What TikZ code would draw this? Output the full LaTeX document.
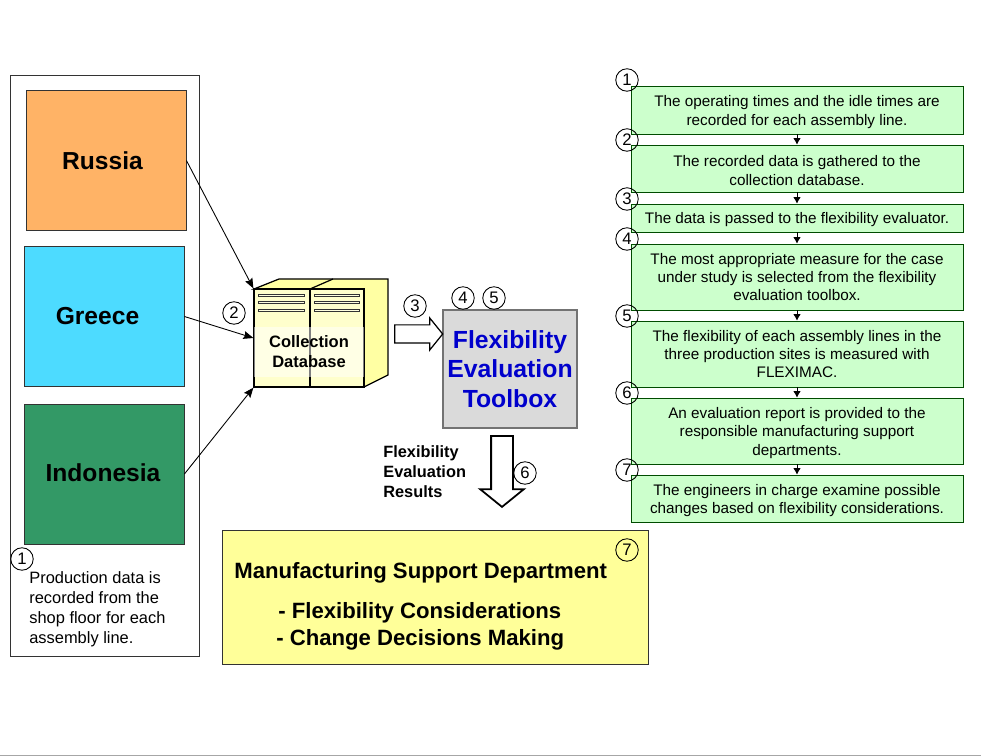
\documentclass[tikz,border=0pt]{standalone}
\usepackage{fontspec}
\setmainfont{Liberation Sans}
\usepackage{xcolor}
\usetikzlibrary{shapes.arrows,arrows.meta}
\definecolor{russiaorange}{HTML}{FFB366}
\definecolor{greececyan}{HTML}{4DDBFF}
\definecolor{indonesiagreen}{HTML}{339966}
\definecolor{stepgreen}{HTML}{CCFFCC}
\definecolor{cabinetyellow}{HTML}{FFFFCC}
\definecolor{reportyellow}{HTML}{FFFF99}
\definecolor{toolboxgray}{HTML}{DADADA}
\definecolor{toolboxblue}{HTML}{0000CC}
\newcommand{\steplift}{\rule{0pt}{8.4pt}}

\begin{document}
\begin{tikzpicture}[
	x=0.02cm,
	y=-0.02cm,
	sitebox/.style={shape=rectangle, draw=black!80, line width=0.5pt, minimum width=3.2cm, minimum height=2.8cm, font=\fontsize{14}{17}\selectfont\bfseries},
	stepbox/.style={shape=rectangle, draw=black!70!green, fill=stepgreen, line width=0.5pt, minimum width=6.64cm, align=center, inner sep=0pt, font=\fontsize{8.7}{10.5}\selectfont},
	stepmark/.style={shape=circle, draw=black, line width=0.5pt, minimum size=0.45cm, inner sep=0pt, font=\fontsize{9.5}{11}\selectfont},
	cabinet/.style={shape=rectangle, draw=black, fill=cabinetyellow, line width=0.7pt, minimum height=1.96cm, inner sep=0pt},
	blockarrow/.style={shape=single arrow, draw=black, fill=white, inner xsep=0pt, single arrow tip angle=102},
	steparrow/.style={-{Latex[length=0.13cm,width=0.15cm]}, line width=0.4pt},
	feedarrow/.style={-{Stealth[length=0.2cm,width=0.16cm,inset=0.03cm]}, line width=0.5pt},
	slot/.style={draw=black!80, fill=cabinetyellow!60!white, line width=0.5pt},
	boldlabel/.style={align=left, inner sep=0pt, font=\fontsize{9.3}{11.3}\selectfont\bfseries},
	reporttext/.style={anchor=west, inner sep=0pt, font=\fontsize{12.6}{15}\selectfont\bfseries},
]
\useasboundingbox (0,0) rectangle (981,756);
\draw[gray!70] (0,755) -- (981,755);

\node[draw=black!80, line width=0.5pt, minimum width=3.78cm, minimum height=11.62cm, inner sep=0pt] (sitepanel) at (104.5,365.5) {};
\node[sitebox, fill=russiaorange] (russia) at (106,160.5) {\hspace*{-0.14cm}Russia};
\node[sitebox, fill=greececyan] (greece) at (104,316.5) {\hspace*{-0.26cm}Greece};
\node[sitebox, fill=indonesiagreen] (indonesia) at (104,474) {\hspace*{-0.04cm}\raisebox{1.1pt}{Indonesia}};
\node[anchor=west, align=left, inner sep=0pt, font=\fontsize{9.35}{11.3}\selectfont] (paneltext) at (29,609) {Production data is\\recorded from the\\shop floor for each\\assembly line.};
\node[stepmark] (panelmark) at (22,559) {1};

\draw[line width=0.7pt, fill=cabinetyellow!80!yellow] (254,289) -- (279,279) -- (388,279) -- (388,375) -- (364,387) -- (364,289) -- cycle;
\draw[line width=0.7pt] (310,289) -- (333,279);
\node[cabinet, minimum width=1.12cm] (cabinetleft) at (282,338) {};
\node[cabinet, minimum width=1.08cm] (cabinetright) at (337,338) {};
\foreach \sloty in {295,302,310} {
	\draw[slot] (258,\sloty-1) rectangle (304,\sloty+1);
	\draw[slot] (314,\sloty-1) rectangle (359,\sloty+1);
}
\node[fill=white, fill opacity=0.5, text opacity=1, minimum width=2.2cm, minimum height=1cm, inner sep=0pt, align=center, font=\fontsize{9.4}{11.3}\selectfont\bfseries] (databaselabel) at (309,352) {Collection\\Database};

\draw[feedarrow] (russia.east) -- (cabinetleft.north west);
\draw[feedarrow] (greece.east) -- (cabinetleft.west);
\draw[feedarrow] (indonesia.east) -- (cabinetleft.south west);
\node[stepmark] (databasemark) at (234,313) {2};

\node[shape=rectangle, draw=black!55, fill=toolboxgray, line width=0.7pt, minimum width=2.68cm, minimum height=2.36cm, inner sep=0pt, align=center, text=toolboxblue, font=\fontsize{14.1}{16.7}\selectfont\bfseries] (toolbox) at (510,369) {Flexibility\\Evaluation\\Toolbox};
\node[blockarrow, line width=0.7pt, inner ysep=0.17cm, minimum height=0.96cm, minimum width=0.62cm, single arrow head extend=0.14cm] (passarrow) at (415,334) {};
\node[stepmark] (passmark) at (415,306) {3};
\node[stepmark] (selectmark) at (463,298) {4};
\node[stepmark] (measuremark) at (494,298) {5};

\node[blockarrow, line width=1pt, rotate=-90, inner ysep=0.2cm, minimum height=1.42cm, minimum width=0.86cm, single arrow head extend=0.22cm] (resultarrow) at (502,467) {};
\node[anchor=west, boldlabel] (resultlabel) at (383,472) {Flexibility\\Evaluation\\Results};
\node[stepmark] (resultmark) at (525,473) {6};

\node[draw=black!80, fill=reportyellow, line width=0.5pt, minimum width=8.52cm, minimum height=2.68cm, inner sep=0pt] (report) at (435,597) {};
\node[reporttext] (reporttitle) at (234,573) {Manufacturing Support Department};
\node[reporttext] (reportfirst) at (278,613) {- Flexibility Considerations};
\node[reporttext] (reportsecond) at (276,640) {- Change Decisions Making};
\node[stepmark] (reportmark) at (627,550) {7};

\node[stepbox, minimum height=0.96cm] (step1) at (797,110) {\steplift The operating times and the idle times are\\recorded for each assembly line.};
\node[stepbox, minimum height=0.94cm] (step2) at (797,168.5) {\steplift The recorded data is gathered to the\\collection database.};
\node[stepbox, minimum height=0.56cm] (step3) at (797,218) {\steplift The data is passed to the flexibility evaluator.};
\node[stepbox, minimum height=1.32cm] (step4) at (797,277) {The most appropriate measure for the case\\under study is selected from the flexibility\\evaluation toolbox.};
\node[stepbox, minimum height=1.32cm] (step5) at (797,354) {The flexibility of each assembly lines in the\\three production sites is measured with\\FLEXIMAC.};
\node[stepbox, minimum height=1.32cm] (step6) at (797,431) {\steplift An evaluation report is provided to the\\responsible manufacturing support\\departments.};
\node[stepbox, minimum height=0.94cm] (step7) at (797,498.5) {\steplift The engineers in charge examine possible\\changes based on flexibility considerations.};
\foreach \stepa/\stepb in {1/2,2/3,3/4,4/5,5/6,6/7} {
	\draw[steparrow] (step\stepa.south) -- (step\stepb.north);
}
\foreach \marknum/\marky in {1/80,2/140,3/199,4/239,5/316,6/393,7/470} {
	\node[stepmark] (mark\marknum) at (627,\marky) {\marknum};
}
\end{tikzpicture}
\end{document}
